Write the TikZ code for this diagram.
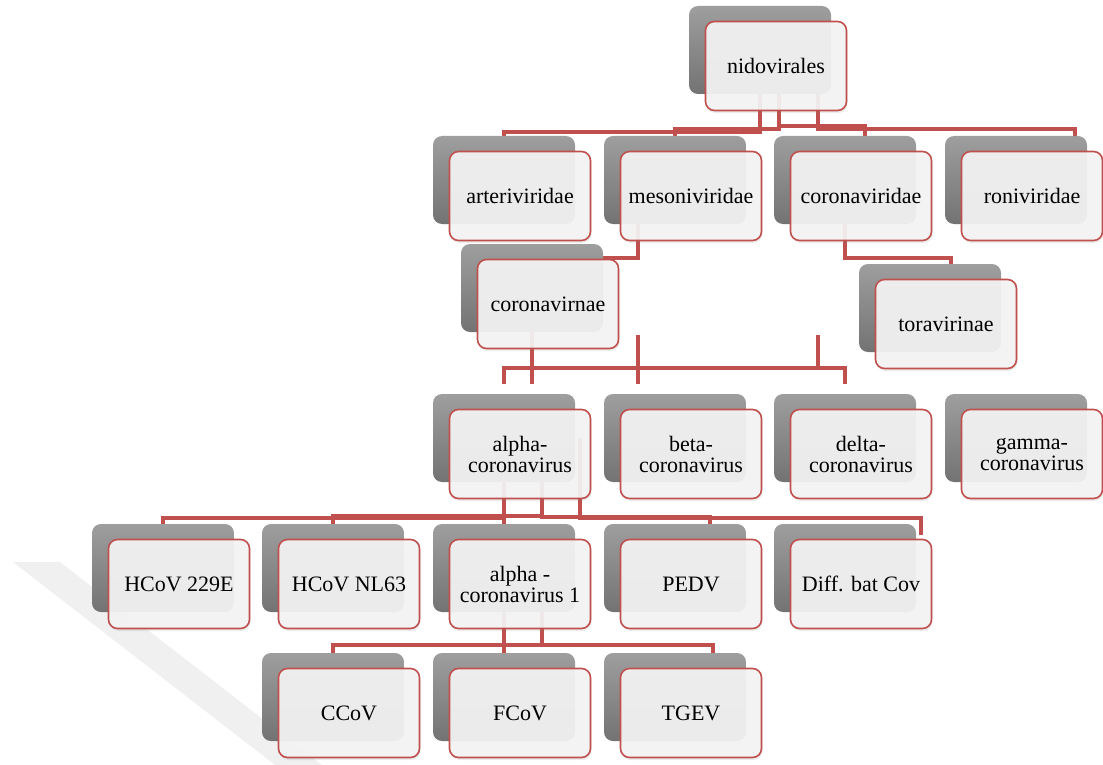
\documentclass[tikz,border=0pt]{standalone}
\usepackage{fontspec}
\setmainfont{Liberation Serif}
\usetikzlibrary{shadows,backgrounds}
\definecolor{linkred}{RGB}{192,80,77}
\definecolor{backtop}{RGB}{158,158,158}
\definecolor{backmid}{RGB}{128,128,128}
\definecolor{backbot}{RGB}{115,115,115}
\definecolor{frontfill}{RGB}{244,244,244}
\definecolor{wmark}{RGB}{240,240,240}

\begin{document}
\begin{tikzpicture}[x=1pt,y=-1pt,
    link/.style={draw=linkred,line width=3.8pt},
    backbox/.style={rounded corners=9pt,minimum width=142pt,minimum height=88pt,
      inner sep=0pt,outer sep=0pt,top color=backtop,middle color=backmid,bottom color=backbot},
    frontbox/.style={rounded corners=9pt,minimum width=141pt,minimum height=89pt,
      inner sep=0pt,outer sep=0pt,draw=linkred,line width=1.6pt,fill=frontfill,
      fill opacity=0.93,text opacity=1,align=center,
      font=\fontsize{22}{21}\selectfont,
      drop shadow={shadow xshift=1pt,shadow yshift=-2.5pt,opacity=0.15}}]
                          \useasboundingbox (0,0) rectangle (1103,765);
                          % back boxes
                          \node [backbox] (nidoB) at (760,50) {};
                          \node [backbox] (arteB) at (504,180) {};
                          \node [backbox] (mesoB) at (675,180) {};
                          \node [backbox] (corB) at (845,180) {};
                          \node [backbox] (roniB) at (1016,180) {};
                          \node [backbox] (subB) at (532,288) {};
                          \node [backbox] (toraB) at (930,308) {};
                          \node [backbox] (alphaB) at (504,438) {};
                          \node [backbox] (betaB) at (675,438) {};
                          \node [backbox] (deltaB) at (845,438) {};
                          \node [backbox] (gammaB) at (1016,438) {};
                          \node [backbox] (hcaB) at (163,568) {};
                          \node [backbox] (hcbB) at (333,568) {};
                          \node [backbox] (aoneB) at (504,568) {};
                          \node [backbox] (pedvB) at (675,568) {};
                          \node [backbox] (diffB) at (845,568) {};
                          \node [backbox] (ccB) at (333,697) {};
                          \node [backbox] (fcB) at (504,697) {};
                          \node [backbox] (tgB) at (675,697) {};
                          % watermark band and connectors, behind the boxes
                          \begin{scope}[on background layer]
                          \fill [wmark] (13,562) -- (60,562) -- (322,765) -- (275,765) -- cycle;
                          \draw [link] (nidoB.center) -- ++(0,82) -| (arteB.north);
                          \draw [link] ([xshift=19pt]nidoB.center) -- ++(0,79) -| (mesoB.north);
                          \draw [link] ([xshift=19pt]nidoB.center) -- ++(0,76) -| ([xshift=20pt]corB.north);
                          \draw [link] ([xshift=58pt]nidoB.center) -- ++(0,79) -| ([xshift=59pt]roniB.north);
                          \draw [link] ([xshift=-37pt]mesoB.center) -- ++(0,78) -| (subB.center);
                          \draw [link] (corB.center) -- ++(0,78) -| ([xshift=21pt]toraB.north);
                          \draw [link] (subB.center) -- ([yshift=10pt]alphaB.north -| subB.center);
                          \draw [link] ([yshift=10pt]alphaB.north) -- ++(0,-16) -| ([yshift=10pt]deltaB.north);
                          \draw [link] ([xshift=-37pt,yshift=10pt]betaB.north) -- ++(0,-49);
                          \draw [link] ([xshift=-27pt,yshift=26pt]deltaB.north) -- ++(0,-33);
                          \draw [link] (alphaB.center) -- ++(0,80) -| (hcaB.north);
                          \draw [link] ([xshift=38pt]alphaB.center) -- ++(0,78) -| (hcbB.north);
                          \draw [link] (alphaB.center) -- (aoneB.north);
                          \draw [link] ([xshift=38pt]alphaB.center) -- ++(0,79) -| ([xshift=35pt]pedvB.north);
                          \draw [link] ([xshift=76pt]alphaB.center) -- ++(0,80) -| ([xshift=76pt,yshift=-11pt]diffB.north);
                          \draw [link] ([xshift=38pt]aoneB.center) -- ++(0,77) -| (ccB.north);
                          \draw [link] (aoneB.center) -- (fcB.north);
                          \draw [link] ([xshift=38pt]aoneB.center) -- ++(0,77) -| ([xshift=38pt]tgB.north);
                          \end{scope}
                          % front boxes
                          \node [frontbox] (nido) at ([shift={(16,16)}]nidoB.center) {nidovirales};
                          \node [frontbox] (arte) at ([shift={(16,16)}]arteB.center) {arteriviridae};
                          \node [frontbox] (meso) at ([shift={(16,16)}]mesoB.center) {mesoniviridae};
                          \node [frontbox] (cor) at ([shift={(16,16)}]corB.center) {coronaviridae};
                          \node [frontbox] (roni) at ([shift={(16,16)}]roniB.center) {roniviridae};
                          \node [frontbox] (sub) at ([shift={(16,16)}]subB.center) {coronavirnae};
                          \node [frontbox] (tora) at ([shift={(16,16)}]toraB.center) {toravirinae};
                          \node [frontbox] (alpha) at ([shift={(16,16)}]alphaB.center) {alpha-\\coronavirus};
                          \node [frontbox] (beta) at ([shift={(16,16)}]betaB.center) {beta-\\coronavirus};
                          \node [frontbox] (delta) at ([shift={(16,16)}]deltaB.center) {delta-\\coronavirus};
                          \node [frontbox] (gamma) at ([shift={(16,16)}]gammaB.center) {gamma-\\coronavirus};
                          \node [frontbox] (hca) at ([shift={(16,16)}]hcaB.center) {HCoV 229E};
                          \node [frontbox] (hcb) at ([shift={(16,16)}]hcbB.center) {HCoV NL63};
                          \node [frontbox] (aone) at ([shift={(16,16)}]aoneB.center) {alpha -\\coronavirus 1};
                          \node [frontbox] (pedv) at ([shift={(16,16)}]pedvB.center) {PEDV};
                          \node [frontbox] (diff) at ([shift={(16,16)}]diffB.center) {Diff. bat Cov};
                          \node [frontbox] (cc) at ([shift={(16,16)}]ccB.center) {CCoV};
                          \node [frontbox] (fc) at ([shift={(16,16)}]fcB.center) {FCoV};
                          \node [frontbox] (tg) at ([shift={(16,16)}]tgB.center) {TGEV};
                      \end{tikzpicture}
\end{document}
